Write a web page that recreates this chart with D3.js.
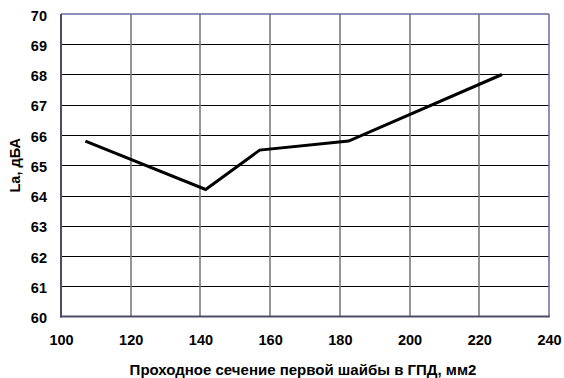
<!DOCTYPE html>
<html>
<head>
<meta charset="utf-8">
<script src="https://cdn.jsdelivr.net/npm/d3@7"></script>
<style>
  html, body { margin: 0; padding: 0; background: #fff; }
  svg { display: block; }
  text { font-family: Arial, "Liberation Sans", sans-serif; font-weight: bold; fill: #000; }
</style>
</head>
<body>
<svg id="chart" width="564" height="378"></svg>
<script>
// Cross-section of the first washer (mm²) vs. sound level La (dBA)
const area = [107, 141.5, 157, 182.5, 226.5];
const level = [65.8, 64.2, 65.5, 65.8, 68.0];
const xTicks = [100, 120, 140, 160, 180, 200, 220, 240];
const yTicks = [60, 61, 62, 63, 64, 65, 66, 67, 68, 69, 70];
const xTitle = "Проходное сечение первой шайбы в ГПД, мм2";
const yTitle = "La, дБА";

const svg = d3.select("#chart");
const plotL = 61, plotR = 549, plotT = 14, plotB = 316.5;
const FONT = "Arial, 'Liberation Sans', sans-serif";

const x = d3.scaleLinear().domain([100, 240]).range([plotL, plotR]);
const y = d3.scaleLinear().domain([60, 70]).range([plotB, plotT]);

// horizontal grid
svg.append("g").selectAll("line").data(yTicks.slice(1, -1)).join("line")
  .attr("x1", plotL).attr("x2", plotR)
  .attr("y1", d => Math.round(y(d)) + 0.5).attr("y2", d => Math.round(y(d)) + 0.5)
  .attr("stroke", "#000").attr("stroke-width", 1);

// vertical grid
svg.append("g").selectAll("line").data(xTicks.slice(1, -1)).join("line")
  .attr("x1", d => Math.round(x(d))).attr("x2", d => Math.round(x(d)))
  .attr("y1", plotT).attr("y2", plotB)
  .attr("stroke", "#7a7a7a").attr("stroke-width", 1.6);

// frame
svg.append("line").attr("x1", plotL).attr("x2", plotR).attr("y1", plotT).attr("y2", plotT)
  .attr("stroke", "#6a6aa0").attr("stroke-width", 1.5);
svg.append("line").attr("x1", plotR).attr("x2", plotR).attr("y1", plotT).attr("y2", plotB)
  .attr("stroke", "#6a6aa0").attr("stroke-width", 1.5);
svg.append("line").attr("x1", plotL).attr("x2", plotL).attr("y1", plotT).attr("y2", plotB + 1)
  .attr("stroke", "#4c4c62").attr("stroke-width", 2);
svg.append("line").attr("x1", plotL - 1).attr("x2", plotR + 0.75).attr("y1", plotB).attr("y2", plotB)
  .attr("stroke", "#4c4c62").attr("stroke-width", 2);

// tick labels via d3 axes (no domain line, no tick marks)
const yAxis = svg.append("g").attr("transform", `translate(${plotL},0)`)
  .call(d3.axisLeft(y).tickValues(yTicks).tickSize(0).tickPadding(14).tickFormat(d3.format("d")));
yAxis.select(".domain").remove();
yAxis.selectAll("text").attr("font-size", 14.5).attr("font-family", FONT)
  .attr("font-weight", "bold").attr("fill", "#000").attr("dy", "0.42em");

const xAxis = svg.append("g").attr("transform", `translate(0,${plotB})`)
  .call(d3.axisBottom(x).tickValues(xTicks).tickSize(0).tickPadding(18).tickFormat(d3.format("d")));
xAxis.select(".domain").remove();
xAxis.selectAll("text").attr("font-size", 14.5).attr("font-family", FONT)
  .attr("font-weight", "bold").attr("fill", "#000");

// data line
const line = d3.line().x(d => x(d[0])).y(d => y(d[1]));
svg.append("path").datum(d3.zip(area, level))
  .attr("d", line).attr("fill", "none").attr("stroke", "#000")
  .attr("stroke-width", 3).attr("stroke-linejoin", "miter");

// titles
svg.append("text").attr("x", 303).attr("y", 374.5)
  .attr("text-anchor", "middle").attr("font-size", 15).attr("font-family", FONT).text(xTitle);
svg.append("text").attr("transform", `translate(19.5,${(plotT + plotB) / 2}) rotate(-90)`)
  .attr("text-anchor", "middle").attr("font-size", 14.5).attr("font-family", FONT).text(yTitle);
</script>
</body>
</html>
